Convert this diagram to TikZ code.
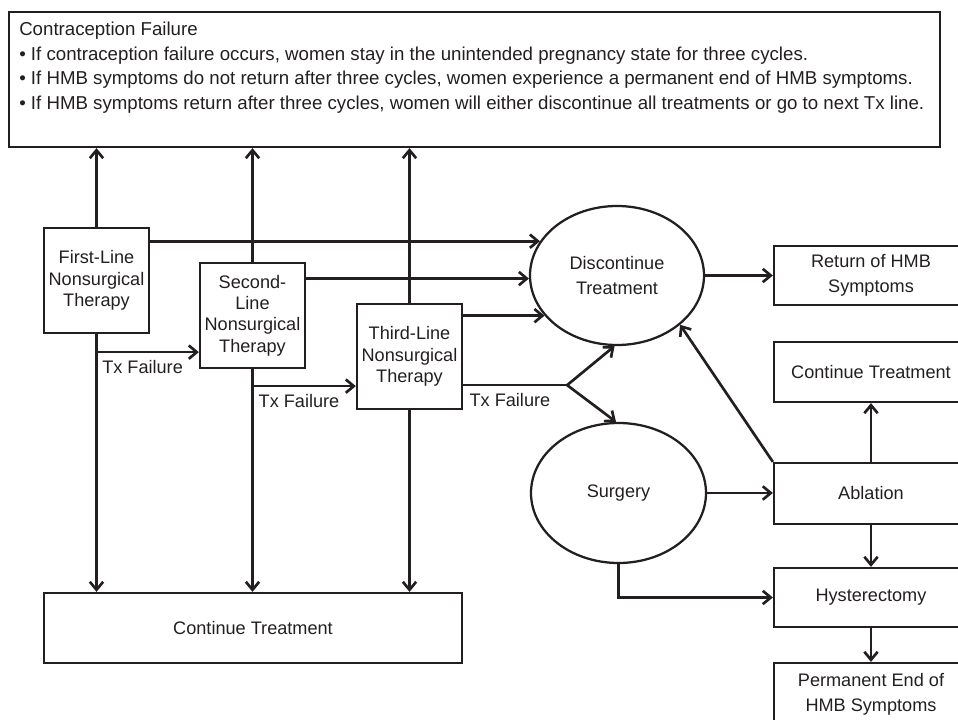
\documentclass[tikz,border=0pt]{standalone}
\usepackage{fontspec}
\setmainfont{Liberation Sans}
\usepackage{tikz}
\usetikzlibrary{shapes.geometric, arrows.meta, positioning, calc}
\definecolor{inkGray}{RGB}{35, 31, 32}
\tikzset{
  txbox/.style={
    rectangle,
    draw=inkGray, line width=1.7pt,
    inner sep=0pt, align=center, text=inkGray,
    font=\fontsize{13.6}{16}\selectfont
  },
  sidebox/.style={
    txbox,
    minimum width=145.5pt,
    font=\fontsize{13.6}{18.5}\selectfont
  },
  txoval/.style={
    ellipse,
    draw=inkGray, line width=1.7pt,
    inner sep=0pt, align=center, text=inkGray,
    font=\fontsize{13.6}{18.5}\selectfont
  },
  flow/.style={
    -{Straight Barb[length=6pt,width=10pt]},
    line width=2pt, draw=inkGray
  },
  joint/.style={
    line width=2pt, draw=inkGray
  },
  faillabel/.style={
    anchor=north, inner sep=0pt, yshift=-5pt,
    text=inkGray, font=\fontsize{13.6}{16}\selectfont
  }
}

\begin{document}
\begin{tikzpicture}[x=0.75pt, y=-0.75pt]

  \clip (0,0) rectangle (958,720);

  % ── Contraception failure panel ───────────────────────────────────────────
  \node[txbox, minimum width=698.25pt, minimum height=101.25pt] (info) at (474.5,79.5) {};
  \node[anchor=north west, inner sep=0pt, align=left, text=inkGray,
        font=\fontsize{14}{18.4}\selectfont] (infotext) at (19,22)
    {Contraception Failure\\
     • If contraception failure occurs, women stay in the unintended pregnancy state for three cycles.\\
     • If HMB symptoms do not return after three cycles, women experience a permanent end of HMB symptoms.\\
     • If HMB symptoms return after three cycles, women will either discontinue all treatments or go to next Tx line.};

  % ── Nonsurgical therapy lines ─────────────────────────────────────────────
  \node[txbox, minimum width=78.75pt, minimum height=78.75pt] (first) at (96.5,280.5)
    {First-Line\\Nonsurgical\\Therapy};
  \node[txbox, minimum width=78.75pt, minimum height=78.75pt] (second) at (252.5,315.5)
    {Second-\\Line\\Nonsurgical\\Therapy};
  \node[txbox, minimum width=78.75pt, minimum height=78.75pt] (third) at (409.5,356.5)
    {Third-Line\\Nonsurgical\\Therapy};
  \node[txbox, minimum width=313.5pt, minimum height=52.5pt] (cont) at (253,628)
    {Continue Treatment};

  % ── Ovals ─────────────────────────────────────────────────────────────────
  \node[txoval, minimum width=130.5pt, minimum height=104.25pt] (disc) at (617,275.5)
    {Discontinue\\Treatment};
  \node[txoval, minimum width=131.25pt, minimum height=105pt] (surg) at (618.5,493)
    {Surgery};

  % ── Right column ──────────────────────────────────────────────────────────
  \node[sidebox, minimum height=44.25pt] (ret) at (871,275.5) {Return of HMB\\Symptoms};
  \node[sidebox, minimum height=45pt] (rcont) at (871,372) {Continue Treatment};
  \node[sidebox, minimum height=45.75pt] (abl) at (871,493.5) {Ablation};
  \node[sidebox, minimum height=44.25pt] (hyst) at (871,597.5) {Hysterectomy};
  \node[sidebox, minimum height=46.5pt] (perm) at (871,694) {Permanent End of\\HMB Symptoms};

  % ── Up to the panel, down to continue ─────────────────────────────────────
  \foreach \n in {first, second, third}{
    \draw[flow] (\n.north) -- (\n.north |- info.south);
    \draw[flow] (\n.south) -- (\n.south |- cont.north);
  }

  % ── Into discontinue ──────────────────────────────────────────────────────
  \draw[flow] (disc.156 -| first.east) -- (disc.156);
  \draw[flow] (disc.182 -| second.east) -- (disc.182);
  \draw[flow] (disc.209 -| third.east) -- (disc.209);

  % ── Treatment failure ─────────────────────────────────────────────────────
  \coordinate (fail1) at ($(second.south west)+(0,-17)$);
  \draw[flow] (fail1 -| first.south) -- node[faillabel, pos=0.45] (lbl1) {Tx Failure} (fail1);
  \coordinate (fail2) at ($(third.south west)+(0,-24)$);
  \draw[flow] (fail2 -| second.south) -- node[faillabel, pos=0.45] (lbl2) {Tx Failure} (fail2);
  \coordinate (split) at ($(third.south east)+(104,-25)$);
  \draw[joint] (split -| third.east) -- node[faillabel, pos=0.45] (lbl3) {Tx Failure} (split);
  \draw[flow] (split) -- (disc.268);
  \draw[flow] (split) -- (surg.92);

  % ── Surgery and after ─────────────────────────────────────────────────────
  \draw[flow] (disc.east) -- (ret.west);
  \draw[flow] (surg.east) -- (surg.east -| abl.west);
  \draw[flow] (surg.south) |- (hyst.west);
  \draw[flow] (abl.north west) -- (disc.322);
  \draw[flow] (abl.north) -- (rcont.south);
  \draw[flow] (abl.south) -- (hyst.north);
  \draw[flow] (hyst.south) -- (perm.north);

\end{tikzpicture}
\end{document}
